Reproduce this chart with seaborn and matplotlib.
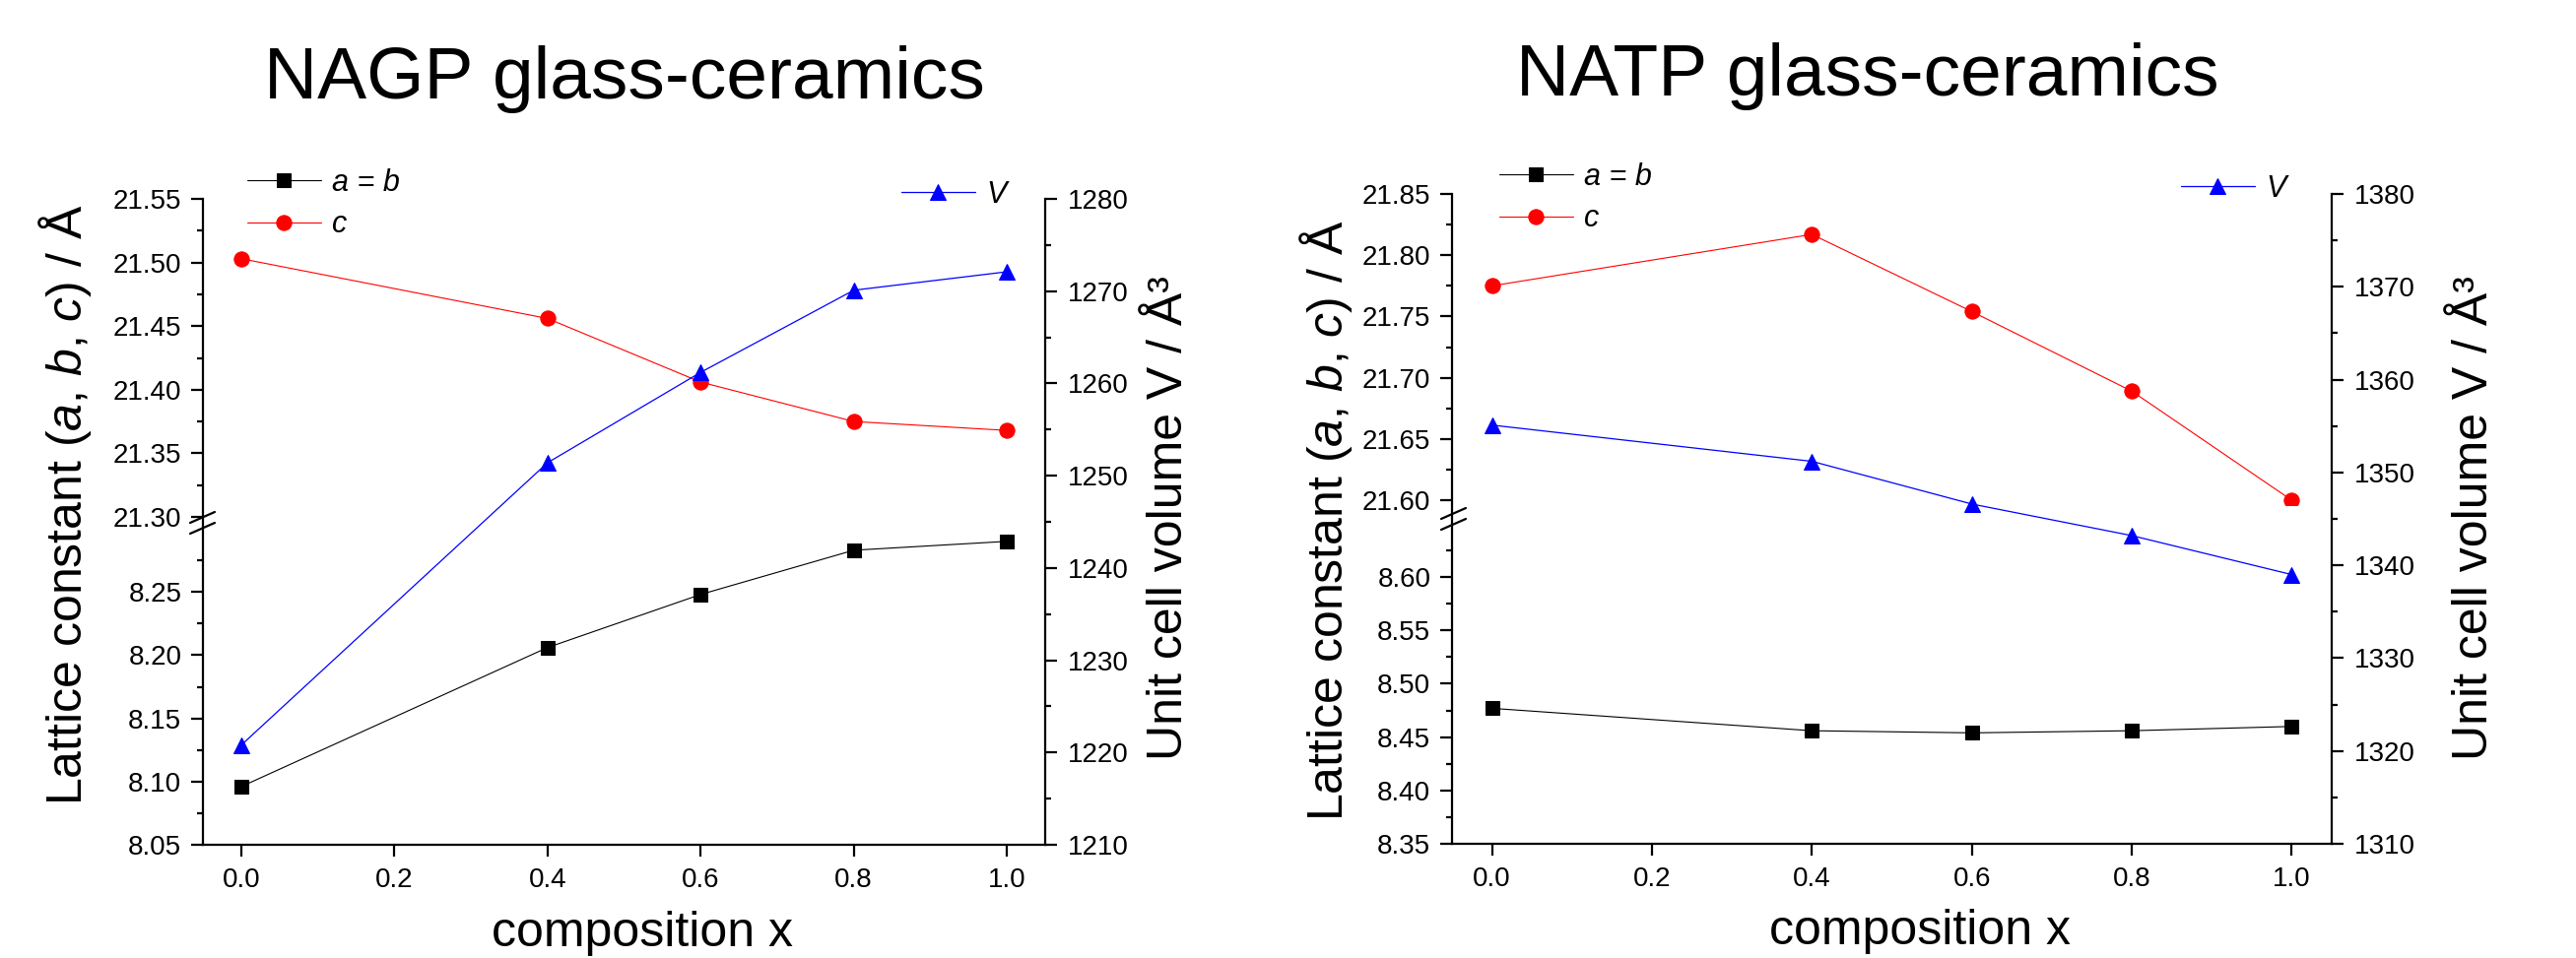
import numpy as np
import pandas as pd
import seaborn as sns
import matplotlib.pyplot as plt
from matplotlib.lines import Line2D
from matplotlib.ticker import FormatStrFormatter

sns.set_style("ticks")
plt.rcParams['font.family'] = ['Liberation Sans', 'DejaVu Sans']
plt.rcParams['mathtext.fontset'] = 'custom'
plt.rcParams['mathtext.rm'] = 'Liberation Sans'
plt.rcParams['mathtext.it'] = 'Liberation Sans:italic'
plt.rcParams['axes.edgecolor'] = 'black'
plt.rcParams['xtick.color'] = 'black'
plt.rcParams['ytick.color'] = 'black'
plt.rcParams['text.color'] = 'black'

# データ
composition = [0.0, 0.4, 0.6, 0.8, 1.0]
nagp_ab = [8.096, 8.206, 8.248, 8.283, 8.290]
nagp_c = [21.503, 21.456, 21.406, 21.375, 21.368]
nagp_v = [1220.8, 1251.4, 1261.2, 1270.1, 1272.1]
natp_ab = [8.477, 8.456, 8.454, 8.456, 8.460]
natp_c = [21.775, 21.817, 21.754, 21.689, 21.600]
natp_v = [1355.1, 1351.2, 1346.6, 1343.2, 1339.0]

x_ticks = [0.0, 0.2, 0.4, 0.6, 0.8, 1.0]
legend_labels = ['a = b', 'c', 'V']

W, H = 2615, 973
fig = plt.figure(figsize=(W / 100, H / 100), dpi=100)


def px_axes(x0, y0, x1, y1):
    return fig.add_axes([x0 / W, 1 - y1 / H, (x1 - x0) / W, (y1 - y0) / H])


def fx(px):
    return px / W


def fy(py):
    return 1 - py / H


def draw_panel(df, box, upper, lower, vol, title, title_pos, pos):
    x0, x1, top, up_bot, lo_top, bot = box
    ax_up = px_axes(x0, top, x1, up_bot)
    ax_lo = px_axes(x0, lo_top, x1, bot)
    ax_v = px_axes(x0, top, x1, bot)

    for ax in (ax_up, ax_lo, ax_v):
        ax.patch.set_visible(False)
        ax.set_xlim(-0.05, 1.05)

    # a = b (下段), c (上段), V (右軸)
    sns.lineplot(data=df, x='x', y='ab', ax=ax_lo, color='black', marker='s',
                 markersize=10, markeredgecolor='black', linewidth=0.8, legend=False)
    sns.lineplot(data=df, x='x', y='c', ax=ax_up, color='red', marker='o',
                 markersize=11, markeredgecolor='red', linewidth=0.8, legend=False)
    sns.lineplot(data=df, x='x', y='v', ax=ax_v, color='blue', marker='^',
                 markersize=12, markeredgecolor='blue', linewidth=0.9, legend=False)
    l_ab, l_c, l_v = ax_lo.lines[-1], ax_up.lines[-1], ax_v.lines[-1]

    ax_up.set_ylim(*upper[0])
    ax_up.set_yticks(upper[1])
    ax_up.set_yticks(upper[2], minor=True)
    ax_lo.set_ylim(*lower[0])
    ax_lo.set_yticks(lower[1])
    ax_lo.set_yticks(lower[2], minor=True)
    ax_v.set_ylim(*vol[0])
    ax_v.set_yticks(vol[1])
    ax_v.set_yticks(vol[2], minor=True)
    ax_v.set_xticks(x_ticks)

    for ax in (ax_up, ax_lo):
        for s in ax.spines.values():
            s.set_visible(False)
        ax.tick_params(axis='x', bottom=False, labelbottom=False)
        ax.tick_params(axis='y', which='major', direction='out', length=8.6, width=1.6,
                       labelsize=20, pad=7)
        ax.tick_params(axis='y', which='minor', direction='out', length=4.3, width=1.6)
        ax.yaxis.set_major_formatter(FormatStrFormatter('%.2f'))
        ax.set_xlabel('')
        ax.set_ylabel('')

    ax_v.spines['top'].set_visible(False)
    for k in ('left', 'right', 'bottom'):
        ax_v.spines[k].set_linewidth(1.6)
    ax_v.yaxis.tick_right()
    ax_v.tick_params(axis='y', which='major', direction='out', length=8.6, width=1.6,
                     labelsize=20, pad=8, left=False, right=True)
    ax_v.tick_params(axis='y', which='minor', direction='out', length=4.3, width=1.6,
                     left=False, right=True)
    ax_v.tick_params(axis='x', which='major', direction='out', length=8.6, width=1.6,
                     labelsize=20, pad=8)
    ax_v.xaxis.set_major_formatter(FormatStrFormatter('%.1f'))
    ax_v.yaxis.set_major_formatter(FormatStrFormatter('%d'))
    ax_v.set_xlabel('')
    ax_v.set_ylabel('')

    # 軸の切れ目
    bx, by = pos['break']
    for dy in (-5.5, 5.5):
        fig.add_artist(Line2D([fx(bx - 12.5), fx(bx + 12.5)],
                              [fy(by + dy + 5.5), fy(by + dy - 5.5)],
                              color='black', lw=1.6))

    leg_kw = dict(frameon=False, prop={'style': 'italic', 'size': 22}, handlelength=2.45,
                  handletextpad=0.36, labelspacing=0.4, borderpad=0, borderaxespad=0,
                  loc='upper left')
    fig.legend(handles=[l_ab, l_c], labels=legend_labels[:2],
               bbox_to_anchor=(fx(pos['leg1'][0]), fy(pos['leg1'][1])), **leg_kw)
    fig.legend(handles=[l_v], labels=legend_labels[2:],
               bbox_to_anchor=(fx(pos['leg2'][0]), fy(pos['leg2'][1])), **leg_kw)

    fig.text(fx(title_pos[0]), fy(title_pos[1]), title, ha='center', va='baseline', fontsize=54)
    fig.text(fx(pos['ylab'][0]), fy(pos['ylab'][1]), r'Lattice constant ($a$, $b$, $c$) / Å',
             rotation=90, ha='center', va='center', fontsize=36)
    fig.text(fx(pos['vlab'][0]), fy(pos['vlab'][1]), 'Unit cell volume V / Å³',
             rotation=90, ha='center', va='center', fontsize=36)
    fig.text(fx(pos['xlab'][0]), fy(pos['xlab'][1]), 'composition x',
             ha='center', va='center', fontsize=36)


df_nagp = pd.DataFrame({'x': composition, 'ab': nagp_ab, 'c': nagp_c, 'v': nagp_v})
df_natp = pd.DataFrame({'x': composition, 'ab': natp_ab, 'c': natp_c, 'v': natp_v})

draw_panel(df_nagp, (206, 1061, 202, 525, 537, 858),
           ((21.30, 21.55), np.arange(21.30, 21.56, 0.05), np.arange(21.325, 21.55, 0.05)),
           ((8.05, 8.30), np.arange(8.05, 8.26, 0.05), np.arange(8.075, 8.30, 0.05)),
           ((1210, 1280), np.arange(1210, 1281, 10), np.arange(1215, 1280, 10)),
           'NAGP glass-ceramics', (634, 100),
           {'break': (205.5, 531), 'leg1': (251, 171), 'leg2': (915, 183),
            'ylab': (66, 513), 'vlab': (1187, 526), 'xlab': (652, 948)})

draw_panel(df_natp, (1474, 2367, 197, 513, 532, 857),
           ((21.596, 21.85), np.arange(21.60, 21.86, 0.05), np.arange(21.625, 21.85, 0.05)),
           ((8.35, 8.65), np.arange(8.35, 8.61, 0.05), np.arange(8.375, 8.65, 0.05)),
           ((1310, 1380), np.arange(1310, 1381, 10), np.arange(1315, 1380, 10)),
           'NATP glass-ceramics', (1896, 97),
           {'break': (1475.5, 527), 'leg1': (1522, 165), 'leg2': (2214, 177),
            'ylab': (1346, 529), 'vlab': (2512, 526), 'xlab': (1949, 946)})

plt.savefig('out.png', dpi=100)
